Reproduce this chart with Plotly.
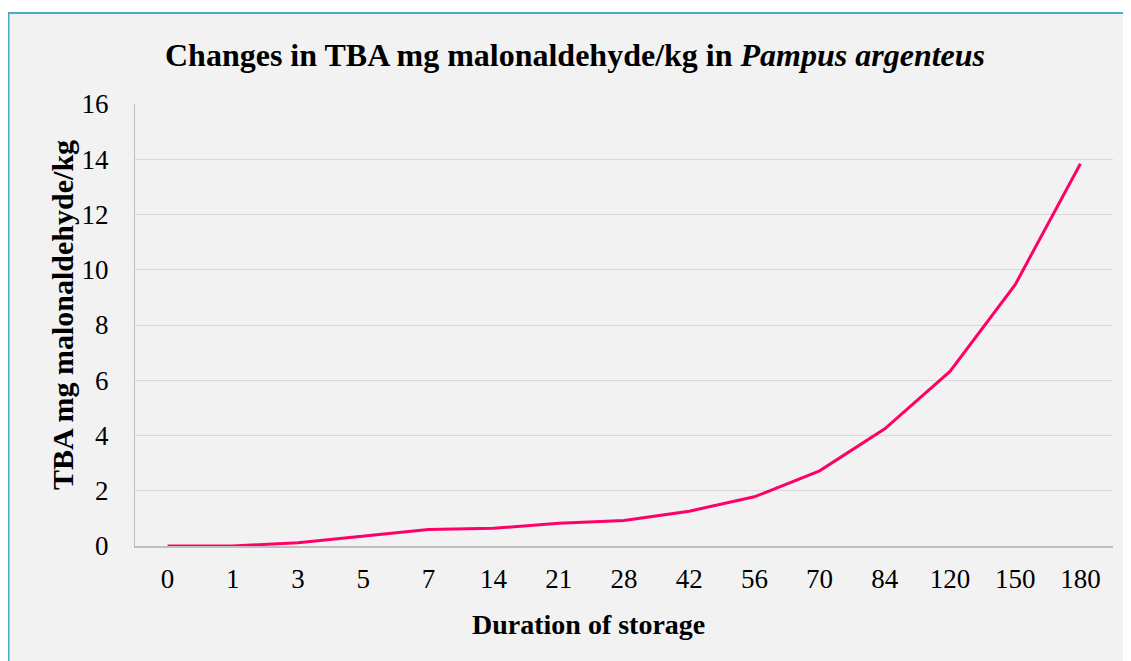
import plotly.graph_objects as go

days = ["0", "1", "3", "5", "7", "14", "21", "28", "42", "56", "70", "84", "120", "150", "180"]
tba = [0.0, 0.0, 0.12, 0.36, 0.6, 0.64, 0.82, 0.92, 1.26, 1.78, 2.72, 4.24, 6.32, 9.46, 13.84]
y_ticks = [0, 2, 4, 6, 8, 10, 12, 14, 16]

# page body has an 8px margin, so the figure is placed 8px in from the window corner
OFF = 8
W, H = 1131 - OFF, 661 - OFF
L, R, T, B = 135 - OFF, 1113 - OFF, 104 - OFF, 546 - OFF
pw, ph = R - L, B - T


def px(p):
    return (p - OFF - L) / pw


def py(q):
    return (B - (q - OFF)) / ph


fig = go.Figure()
fig.add_trace(go.Scatter(
    x=days, y=tba, mode="lines",
    line=dict(color="#FF0066", width=3),
    showlegend=False, hoverinfo="x+y",
))

font_family = "Liberation Serif, Times New Roman, serif"

fig.update_layout(
    width=W, height=H,
    margin=dict(l=L, r=W - R, t=T, b=H - B),
    paper_bgcolor="white",
    plot_bgcolor="rgba(0,0,0,0)",
    font=dict(family=font_family, color="black", size=27),
    title=dict(
        text="<b>Changes in TBA mg malonaldehyde/kg in <i>Pampus argenteus</i></b>",
        x=(575 - OFF) / W, xanchor="center", y=1 - (55 - OFF) / H, yanchor="middle",
        font=dict(family=font_family, size=32, color="black"),
    ),
    shapes=[dict(
        type="rect", xref="paper", yref="paper",
        x0=px(8.5), x1=px(1145), y0=py(680), y1=py(13),
        fillcolor="#F2F2F2", line=dict(color="#4BACC6", width=2), layer="below",
    )],
    annotations=[
        dict(text="<b>Duration of storage</b>", xref="paper", yref="paper",
             x=px(588), y=py(624), xanchor="center", yanchor="middle",
             showarrow=False, font=dict(size=28)),
        dict(text="<b>TBA mg malonaldehyde/kg</b>", xref="paper", yref="paper",
             x=px(62), y=py(315), xanchor="center", yanchor="middle", textangle=-90,
             showarrow=False, font=dict(size=30)),
    ],
    xaxis=dict(
        type="category", categoryorder="array", categoryarray=days,
        range=[-0.5, len(days) - 0.5],
        showgrid=False, showline=True, linecolor="#BFBFBF", linewidth=1.5,
        ticks="", ticklabelstandoff=8, tickfont=dict(size=27),
        zeroline=False, fixedrange=True,
    ),
    yaxis=dict(
        range=[0, 16], tickvals=y_ticks, ticktext=[str(v) for v in y_ticks],
        showgrid=True, gridcolor="#D9D9D9", gridwidth=1.2,
        showline=True, linecolor="#BFBFBF", linewidth=1,
        ticks="", ticklabelstandoff=20, tickfont=dict(size=27),
        zeroline=False, fixedrange=True,
    ),
)

fig.write_html("out.html")
